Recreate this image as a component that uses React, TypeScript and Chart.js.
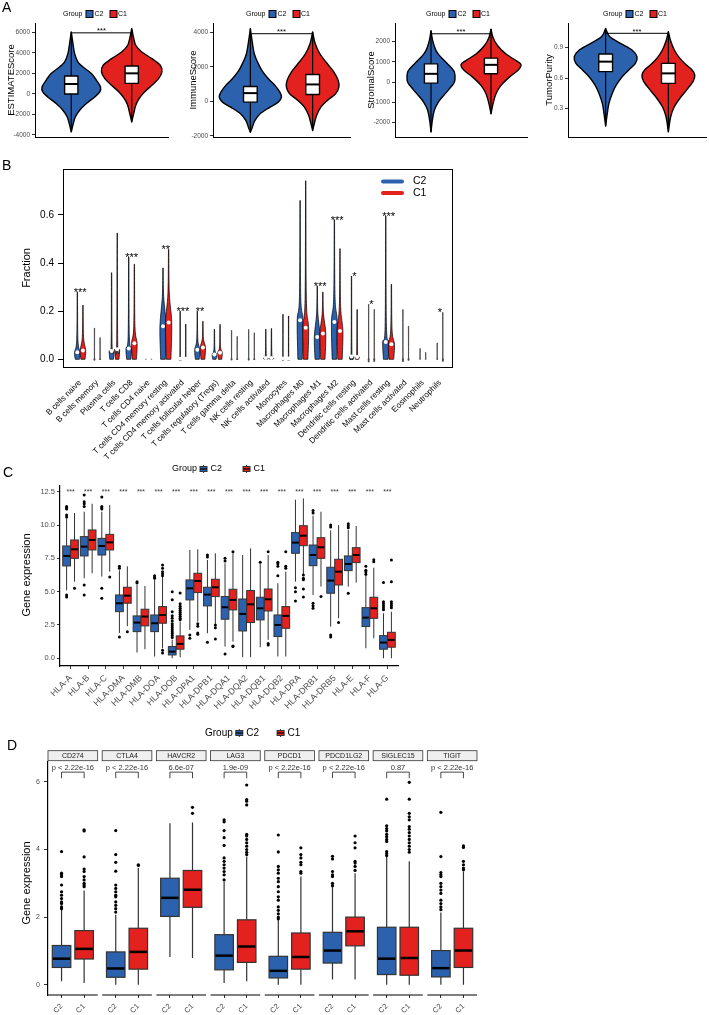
import React, { useEffect, useRef } from "react";
import { Chart, registerables } from "chart.js";

Chart.register(...registerables);

const FONT = "'Liberation Sans', Arial, Helvetica, sans-serif";
const BLUE = "#2C62AD";
const RED = "#E3211E";
const GREY30 = "#4D4D4D";
const GREY20 = "#333333";

/* ======================= Panel A data ======================= */
const groups = ["C2", "C1"];
const aScoreNames = ["ESTIMATEScore", "ImmuneScore", "StromalScore", "TumorPurity"];
const aTicks = [
  [-4000, -2000, 0, 2000, 4000, 6000],
  [-2000, 0, 2000, 4000],
  [-2000, -1000, 0, 1000, 2000],
  [0.3, 0.6, 0.9],
];
const aAxisMin = [-4195, -2058, -2708, 0.017];
const aAxisMax = [6909, 4540, 2922, 1.144];
const aBracketValue = [5950, 3920, 2390, 1.042];
const aSignificance = ["***", "***", "***", "***"];

// violin outlines: value levels (low -> high) and relative density (half width)
const estimateC2Levels = [-3700, -2890, -2240, -1590, -940, -290, 195, 680, 1330, 1980, 2630, 3100, 3930, 4900, 6040];
const estimateC2Density = [0, 6, 12, 25, 45, 70, 85, 87, 75, 60, 35, 20, 10, 5, 0];
const estimateC1Levels = [-2730, -1900, -1100, -450, 195, 840, 1490, 2140, 2790, 3440, 4090, 4740, 5550, 6360];
const estimateC1Density = [0, 6, 12, 22, 38, 60, 80, 90, 85, 60, 30, 12, 5, 0];
const immuneC2Levels = [-1780, -1490, -1100, -710, -330, -40, 250, 540, 930, 1310, 1800, 2280, 2760, 3540, 4210];
const immuneC2Density = [0, 6, 14, 30, 60, 85, 95, 90, 75, 55, 35, 22, 12, 5, 0];
const immuneC1Levels = [-1680, -1290, -810, -330, 60, 440, 830, 1220, 1700, 2180, 2760, 3340, 4020];
const immuneC1Density = [0, 5, 12, 25, 45, 70, 80, 78, 65, 45, 22, 8, 0];
const stromalC2Levels = [-2460, -1890, -1390, -980, -660, -330, 0, 330, 570, 900, 1230, 1560, 2050, 2540];
const stromalC2Density = [0, 4, 10, 22, 38, 55, 70, 72, 68, 50, 30, 15, 5, 0];
const stromalC1Levels = [-1560, -1070, -570, -160, 250, 570, 870, 1070, 1390, 1800, 2210, 2620];
const stromalC1Density = [0, 6, 15, 30, 55, 80, 90, 75, 45, 20, 6, 0];
const purityC2Levels = [0.125, 0.25, 0.349, 0.448, 0.53, 0.613, 0.679, 0.745, 0.81, 0.877, 0.943, 1.01, 1.09];
const purityC2Density = [0, 5, 10, 20, 32, 50, 70, 90, 95, 80, 45, 12, 0];
const purityC1Levels = [0.068, 0.217, 0.316, 0.4, 0.481, 0.567, 0.63, 0.679, 0.728, 0.794, 0.877, 0.976, 1.058];
const purityC1Density = [0, 7, 18, 35, 55, 75, 80, 72, 55, 35, 18, 6, 0];

// boxes: [q1, median, q3] for C2 then C1
const estimateBoxes = [[-7, 967, 1746], [1032, 2006, 2720]];
const immuneBoxes = [[-39, 482, 868], [405, 984, 1562]];
const stromalBoxes = [[-49, 412, 905], [412, 856, 1185]];
const purityBoxes = [[0.663, 0.762, 0.837], [0.547, 0.646, 0.745]];

/* ======================= Panel B data ======================= */
const cellTypes = [
  "B cells naive", "B cells memory", "Plasma cells", "T cells CD8", "T cells CD4 naive",
  "T cells CD4 memory resting", "T cells CD4 memory activated", "T cells follicular helper",
  "T cells regulatory (Tregs)", "T cells gamma delta", "NK cells resting", "NK cells activated",
  "Monocytes", "Macrophages M0", "Macrophages M1", "Macrophages M2", "Dendritic cells resting",
  "Dendritic cells activated", "Mast cells resting", "Mast cells activated", "Eosinophils", "Neutrophils",
];
const bTopC2 = [0.28, 0.13, 0.36, 0.425, 0.004, 0.38, 0.2, 0.2, 0.125, 0.12, 0.124, 0.125, 0.187, 0.66, 0.305, 0.58, 0.346, 0.229, 0.596, 0.207, 0.045, 0.068];
const bTopC1 = [0.225, 0.09, 0.525, 0.395, 0.004, 0.457, 0.146, 0.158, 0.145, 0.095, 0.11, 0.128, 0.18, 0.742, 0.28, 0.46, 0.207, 0.207, 0.312, 0.1375, 0.029, 0.195];
const bMedianC2 = [0.029, 0, 0.035, 0.045, 0, 0.137, 0.002, 0.04, 0.02, 0, 0, 0.005, 0.003, 0.162, 0.093, 0.155, 0.012, 0, 0.072, 0, 0, 0];
const bMedianC1 = [0.037, 0, 0.042, 0.067, 0, 0.153, 0.002, 0.049, 0.027, 0, 0, 0.005, 0.003, 0.131, 0.107, 0.118, 0.01, 0, 0.063, 0, 0, 0];
const bBodyC2 = [0.08, 0, 0.053, 0.094, 0, 0.26, 0.01, 0.08, 0.04, 0, 0, 0.015, 0.01, 0.26, 0.19, 0.26, 0.025, 0, 0.135, 0, 0, 0];
const bBodyC1 = [0.094, 0, 0.06, 0.136, 0, 0.275, 0.01, 0.087, 0.053, 0, 0, 0.015, 0.01, 0.25, 0.19, 0.22, 0.02, 0, 0.12, 0, 0, 0];
const bWidthC2 = [0.16, 0.03, 0.14, 0.16, 0.03, 0.18, 0.06, 0.15, 0.13, 0.03, 0.03, 0.13, 0.06, 0.17, 0.17, 0.17, 0.12, 0.03, 0.18, 0.03, 0.03, 0.03];
const bWidthC1 = [0.16, 0.03, 0.14, 0.16, 0.03, 0.18, 0.06, 0.15, 0.13, 0.03, 0.03, 0.13, 0.06, 0.17, 0.17, 0.17, 0.12, 0.03, 0.18, 0.03, 0.03, 0.03];
const bSignif = ["***", "", "", "***", "", "**", "***", "**", "", "", "", "", "", "", "***", "***", "*", "*", "***", "", "", "*"];
const bTicks = [0, 0.2, 0.4, 0.6];

/* ======================= Panel C data ======================= */
const hlaGenes = ["HLA-A", "HLA-B", "HLA-C", "HLA-DMA", "HLA-DMB", "HLA-DOA", "HLA-DOB", "HLA-DPA1", "HLA-DPB1", "HLA-DQA1", "HLA-DQA2", "HLA-DQB1", "HLA-DQB2", "HLA-DRA", "HLA-DRB1", "HLA-DRB5", "HLA-E", "HLA-F", "HLA-G"];
// [lower whisker, q1, median, q3, upper whisker]
const hlaC2Stats = [
  [5.1, 6.93, 7.68, 8.43, 10.5], [6.0, 7.68, 8.38, 9.13, 11.0], [6.13, 7.75, 8.43, 9.0, 11.0],
  [1.9, 3.5, 4.13, 4.75, 6.6], [0.43, 2.0, 2.68, 3.18, 5.5], [0.13, 2.0, 2.63, 3.25, 5.88],
  [0.0, 0.25, 0.5, 0.88, 1.4], [2.13, 4.38, 5.25, 5.88, 8.13], [1.88, 3.93, 4.78, 5.33, 7.38],
  [0.88, 2.93, 3.83, 4.63, 7.13], [0.08, 2.05, 3.33, 4.45, 7.75], [0.83, 2.88, 3.75, 4.58, 7.1],
  [0.13, 1.63, 2.5, 3.25, 5.63], [5.75, 7.88, 8.68, 9.43, 11.9], [4.75, 6.95, 7.75, 8.5, 10.7],
  [2.38, 4.88, 5.83, 6.83, 9.6], [5.38, 6.58, 7.08, 7.68, 9.63], [0.75, 2.38, 3.05, 3.8, 6.43],
  [0.0, 0.68, 1.18, 1.7, 3.38],
];
const hlaC1Stats = [
  [5.75, 7.5, 8.18, 8.88, 10.9], [6.38, 8.13, 8.88, 9.63, 11.6], [6.5, 8.13, 8.7, 9.3, 11.5],
  [2.4, 4.13, 4.7, 5.33, 6.9], [0.68, 2.43, 3.13, 3.68, 5.43], [0.75, 2.63, 3.25, 3.88, 6.1],
  [0.08, 0.68, 1.08, 1.68, 2.75], [2.75, 4.93, 5.8, 6.38, 8.18], [2.58, 4.63, 5.33, 5.93, 7.88],
  [1.25, 3.63, 4.38, 5.18, 7.88], [0.08, 2.68, 4.05, 5.08, 8.25], [1.38, 3.55, 4.43, 5.2, 7.75],
  [0.13, 2.25, 3.18, 3.88, 6.5], [6.25, 8.45, 9.2, 9.95, 12.0], [5.38, 7.5, 8.33, 9.05, 11.0],
  [3.0, 5.5, 6.5, 7.43, 10.0], [5.68, 7.18, 7.75, 8.3, 9.93], [1.5, 3.0, 3.75, 4.58, 6.8],
  [0.0, 0.83, 1.38, 1.95, 3.5],
];
const hlaC2Outliers = [
  [11.4, 11.3, 11.2, 10.75, 10.6, 4.75, 4.6], [12.25, 11.75, 11.6, 11.4, 5.5, 4.75], [12.1, 11.4, 11.3, 11.2, 5.25, 4.5],
  [6.9, 6.75, 1.6], [5.75, 5.65], [6.2, 6.1, 6.0],
  [5.0, 4.4, 3.5, 3.2, 3.0, 2.8, 2.6, 2.45, 2.3, 2.15, 2.0, 1.85, 1.7, 1.55], [1.75, 1.5], [7.75, 7.6, 1.2],
  [7.5, 7.3, 0.33], [], [7.2],
  [7.2, 7.1, 6.9, 6.2], [5.3, 5.0, 4.3], [11.1, 10.9, 4.13, 3.95, 3.75],
  [10.0, 9.85, 1.75, 1.6], [10.1, 9.95, 9.8, 4.88], [6.9, 6.6, 6.5, 6.3],
  [5.68, 4.25, 4.1, 3.95, 3.8, 3.65],
];
const hlaC1Outliers = [
  [5.25], [], [6.1],
  [2.0], [], [7.0, 6.75, 6.5, 6.35, 6.2, 0.6, 0.4],
  [4.9, 4.1, 3.9, 3.75, 3.6, 3.45, 3.3, 3.15, 3.0, 2.9], [2.6, 2.4, 1.9, 1.8], [2.5, 2.3, 1.45],
  [8.0, 0.93, 0.88], [], [8.0, 1.1, 1.0],
  [8.0, 6.9, 6.75], [6.25, 6.0, 5.9, 5.2, 4.6], [4.63],
  [2.68], [], [7.4, 7.25],
  [7.38, 5.75, 4.25, 4.1, 3.95, 3.8],
];
const hlaSignif = ["***", "***", "***", "***", "***", "***", "***", "***", "***", "***", "***", "***", "***", "***", "***", "***", "***", "***", "***"];
const cTicks = [0, 2.5, 5, 7.5, 10, 12.5];

/* ======================= Panel D data ======================= */
const checkpoints = ["CD274", "CTLA4", "HAVCR2", "LAG3", "PDCD1", "PDCD1LG2", "SIGLEC15", "TIGIT"];
const checkpointP = ["p < 2.22e-16", "p < 2.22e-16", "6.6e-07", "1.9e-09", "p < 2.22e-16", "p < 2.22e-16", "0.87", "p < 2.22e-16"];
const icpC2Stats = [
  [0.1, 0.51, 0.77, 1.16, 2.22], [0.0, 0.22, 0.48, 0.97, 2.07], [0.82, 2.02, 2.57, 3.15, 4.78], [0.05, 0.44, 0.86, 1.48, 3.05],
  [0.0, 0.2, 0.41, 0.84, 1.92], [0.15, 0.64, 1.01, 1.55, 2.91], [0.0, 0.3, 0.77, 1.7, 3.79], [0.0, 0.23, 0.49, 1.01, 2.14],
];
const icpC1Stats = [
  [0.05, 0.76, 1.06, 1.6, 2.79], [0.0, 0.46, 0.97, 1.67, 3.45], [0.79, 2.29, 2.81, 3.38, 4.8], [0.1, 0.66, 1.13, 1.92, 3.79],
  [0.0, 0.46, 0.82, 1.53, 3.2], [0.15, 1.15, 1.58, 2.0, 3.3], [0.0, 0.28, 0.79, 1.7, 3.65], [0.0, 0.51, 1.01, 1.67, 3.35],
];
const icpC2Outliers = [
  [3.94, 3.3, 3.25, 3.2, 2.95, 2.75, 2.65, 2.55, 2.45, 2.4, 2.3, 2.25],
  [4.56, 3.85, 3.62, 3.36, 2.95, 2.85, 2.75, 2.65, 2.6, 2.45, 2.35, 2.25, 2.15],
  [],
  [4.88, 4.82, 4.56, 4.35, 4.12, 3.75, 3.65, 3.55, 3.45, 3.35, 3.25, 3.1],
  [4.43, 3.93, 3.5, 3.4, 3.3, 3.15, 3.05, 2.9, 2.75, 2.6, 2.5, 2.3, 2.2, 2.1, 2.0, 1.95],
  [3.8, 3.72, 3.35, 3.25, 3.2, 3.0, 2.93],
  [5.49, 4.7, 4.62, 4.55, 4.45, 4.38, 4.3, 4.24, 3.94, 3.88, 3.82],
  [5.1, 3.79, 3.32, 3.25, 3.2, 3.0, 2.9, 2.8, 2.7, 2.5, 2.4, 2.3, 2.22],
];
const icpC1Outliers = [
  [4.58, 4.55, 3.78, 3.42, 3.35, 3.2, 3.1, 3.0, 2.95, 2.9],
  [3.55, 3.53],
  [5.25, 5.07],
  [5.91, 5.48, 5.43, 5.32, 4.45, 4.4, 4.3, 4.2, 4.1, 4.0, 3.92, 3.85],
  [4.05, 3.85, 3.75, 3.62, 3.55, 3.35, 3.3],
  [4.4, 4.2, 4.05, 3.65, 3.6, 3.5, 3.38],
  [5.99, 5.49, 5.07, 4.97, 4.88, 4.68, 4.6, 4.5, 4.4, 4.3, 4.2, 4.1, 4.0, 3.92],
  [4.11, 4.06, 3.65, 3.55, 3.45, 3.4],
];
const dTicks = [0, 2, 4, 6];
const dBracketTop = 6.29;
const dBracketFoot = 6.11;
const dLabelLevel = 6.42;

/* ======================= Layout ======================= */
type Lay = { cx: number; cy: number; cw: number; ch: number; l: number; t: number; r: number; b: number };
const LAYOUT_A: Lay[] = [
  { cx: 0, cy: 0, cw: 177, ch: 145, l: 35, t: 23, r: 168, b: 137 },
  { cx: 177, cy: 0, cw: 177, ch: 145, l: 213, t: 23, r: 350, b: 137 },
  { cx: 354, cy: 0, cw: 177, ch: 145, l: 395, t: 23, r: 527, b: 137 },
  { cx: 531, cy: 0, cw: 178, ch: 145, l: 568, t: 23, r: 706, b: 137 },
];
const A_TITLE_X = [11.5, 193.5, 371.5, 549.5];
const A_LEGEND_X = [63, 246, 426, 603];
const LAYOUT_B: Lay = { cx: 0, cy: 150, cw: 470, ch: 320, l: 63, t: 169, r: 452, b: 367 };
const LAYOUT_C: Lay = { cx: 0, cy: 460, cw: 420, ch: 262, l: 60, t: 486, r: 398, b: 666 };
const LAYOUT_D: Lay = { cx: 0, cy: 722, cw: 500, ch: 293, l: 48, t: 762, r: 477, b: 995 };
const FACET_STEP = 2.4;
const FACET_WIDTH = 2.2;

/* ======================= helpers ======================= */
function px(chart: any, v: number) { return chart.scales.x.getPixelForValue(v); }
function py(chart: any, v: number) { return chart.scales.y.getPixelForValue(v); }

function drawText(ctx: CanvasRenderingContext2D, s: string, x: number, y: number, size: number, color: string,
  align: CanvasTextAlign = "left", baseline: CanvasTextBaseline = "middle", rot = 0) {
  ctx.save();
  ctx.font = `${size}px ${FONT}`;
  ctx.fillStyle = color;
  ctx.textAlign = align;
  ctx.textBaseline = baseline;
  ctx.translate(x, y);
  if (rot) ctx.rotate(rot);
  ctx.fillText(s, 0, 0);
  ctx.restore();
}

function smoothLine(ctx: CanvasRenderingContext2D, pts: number[][], first: boolean) {
  if (first) ctx.moveTo(pts[0][0], pts[0][1]); else ctx.lineTo(pts[0][0], pts[0][1]);
  for (let i = 0; i < pts.length - 1; i++) {
    const p0 = pts[i > 0 ? i - 1 : i];
    const p1 = pts[i];
    const p2 = pts[i + 1];
    const p3 = pts[i + 2 < pts.length ? i + 2 : i + 1];
    ctx.bezierCurveTo(
      p1[0] + (p2[0] - p0[0]) / 6, p1[1] + (p2[1] - p0[1]) / 6,
      p2[0] - (p3[0] - p1[0]) / 6, p2[1] - (p3[1] - p1[1]) / 6,
      p2[0], p2[1]);
  }
}

function violinPath(chart: any, xc: number, levels: number[], halfWidths: number[]) {
  const ctx = chart.ctx as CanvasRenderingContext2D;
  const right = levels.map((v, k) => [px(chart, xc + halfWidths[k]), py(chart, v)]);
  const left = levels.map((v, k) => [px(chart, xc - halfWidths[k]), py(chart, v)]).reverse();
  ctx.beginPath();
  smoothLine(ctx, right, true);
  smoothLine(ctx, left, false);
  ctx.closePath();
}

function drawBox(chart: any, xc: number, half: number, st: number[], fill: string, border: number, medW: number) {
  const ctx = chart.ctx as CanvasRenderingContext2D;
  const [lo, q1, med, q3, hi] = st;
  const x = px(chart, xc);
  const x0 = px(chart, xc - half);
  const x1 = px(chart, xc + half);
  ctx.save();
  ctx.strokeStyle = GREY20;
  ctx.lineWidth = border;
  ctx.beginPath();
  ctx.moveTo(x, py(chart, hi)); ctx.lineTo(x, py(chart, q3));
  ctx.moveTo(x, py(chart, q1)); ctx.lineTo(x, py(chart, lo));
  ctx.stroke();
  const yt = py(chart, q3);
  const yb = py(chart, q1);
  ctx.fillStyle = fill;
  ctx.fillRect(x0, yt, x1 - x0, yb - yt);
  ctx.strokeRect(x0, yt, x1 - x0, yb - yt);
  ctx.strokeStyle = "#000";
  ctx.lineWidth = medW;
  ctx.beginPath();
  ctx.moveTo(x0 + border / 2, py(chart, med)); ctx.lineTo(x1 - border / 2, py(chart, med));
  ctx.stroke();
  ctx.restore();
}

function boxKey(ctx: CanvasRenderingContext2D, x: number, y: number, fill: string) {
  ctx.save();
  ctx.strokeStyle = GREY20;
  ctx.lineWidth = 1;
  ctx.beginPath();
  ctx.moveTo(x + 3.5, y - 4); ctx.lineTo(x + 3.5, y + 4);
  ctx.stroke();
  ctx.fillStyle = fill;
  ctx.fillRect(x, y - 2.5, 7, 5);
  ctx.strokeRect(x, y - 2.5, 7, 5);
  ctx.strokeStyle = "#000";
  ctx.lineWidth = 1.2;
  ctx.beginPath();
  ctx.moveTo(x, y); ctx.lineTo(x + 7, y);
  ctx.stroke();
  ctx.restore();
}

function groupLegend(ctx: CanvasRenderingContext2D, x: number, y: number, size: number, gapAfterC2: number) {
  ctx.save();
  ctx.font = `${size}px ${FONT}`;
  const wGroup = ctx.measureText("Group").width;
  const wC2 = ctx.measureText("C2").width;
  ctx.restore();
  drawText(ctx, "Group", x, y, size, "#000", "left", "middle");
  let cx = x + wGroup + 3;
  boxKey(ctx, cx, y, BLUE);
  cx += 10.5;
  drawText(ctx, "C2", cx, y, size, "#000", "left", "middle");
  cx += wC2 + gapAfterC2;
  boxKey(ctx, cx, y, RED);
  cx += 10.5;
  drawText(ctx, "C1", cx, y, size, "#000", "left", "middle");
}

function baseOptions(L: Lay, xCfg: any, yCfg: any) {
  return {
    responsive: false,
    animation: false,
    events: [],
    layout: { autoPadding: false, padding: { left: 0, top: L.t - L.cy, right: L.cx + L.cw - L.r, bottom: 0 } },
    plugins: { legend: { display: false }, tooltip: { enabled: false }, title: { display: false } },
    scales: {
      x: {
        ...xCfg,
        afterFit(s: any) { s.height = L.cy + L.ch - L.b; s.paddingLeft = 0; s.paddingRight = 0; s.paddingTop = 0; s.paddingBottom = 0; },
      },
      y: {
        ...yCfg,
        afterFit(s: any) { s.width = L.l - L.cx; s.paddingLeft = 0; s.paddingRight = 0; s.paddingTop = 0; s.paddingBottom = 0; },
      },
    },
  };
}

/* ======================= Panel A ======================= */
const aViolins = [
  [[estimateC2Levels, estimateC2Density], [estimateC1Levels, estimateC1Density]],
  [[immuneC2Levels, immuneC2Density], [immuneC1Levels, immuneC1Density]],
  [[stromalC2Levels, stromalC2Density], [stromalC1Levels, stromalC1Density]],
  [[purityC2Levels, purityC2Density], [purityC1Levels, purityC1Density]],
];
const aBoxes = [estimateBoxes, immuneBoxes, stromalBoxes, purityBoxes];

function makePanelA(canvas: HTMLCanvasElement, i: number) {
  const L = LAYOUT_A[i];
  const vio = aViolins[i];
  const maxD = Math.max(...vio[0][1], ...vio[1][1]);
  const plugin = {
    id: "violinA" + i,
    beforeDatasetsDraw(chart: any) {
      const ctx = chart.ctx as CanvasRenderingContext2D;
      for (let g = 0; g < 2; g++) {
        const xc = g + 1;
        const [levels, dens] = vio[g];
        const half = dens.map((d) => (d / maxD) * 0.5);
        ctx.save();
        violinPath(chart, xc, levels, half);
        ctx.fillStyle = g === 0 ? BLUE : RED;
        ctx.fill();
        ctx.lineWidth = 1.4;
        ctx.strokeStyle = "#000";
        ctx.lineJoin = "round";
        ctx.stroke();
        const x = px(chart, xc);
        ctx.beginPath();
        ctx.moveTo(x, py(chart, levels[0]));
        ctx.lineTo(x, py(chart, levels[levels.length - 1]));
        ctx.lineWidth = 1.2;
        ctx.stroke();
        const [q1, med, q3] = aBoxes[i][g];
        const x0 = px(chart, xc - 0.11);
        const x1 = px(chart, xc + 0.11);
        const yt = py(chart, q3);
        const yb = py(chart, q1);
        ctx.fillStyle = "#fff";
        ctx.fillRect(x0, yt, x1 - x0, yb - yt);
        ctx.lineWidth = 1.4;
        ctx.strokeRect(x0, yt, x1 - x0, yb - yt);
        ctx.beginPath();
        ctx.moveTo(x0, py(chart, med));
        ctx.lineTo(x1, py(chart, med));
        ctx.lineWidth = 2;
        ctx.stroke();
        ctx.restore();
      }
      const yb = py(chart, aBracketValue[i]);
      ctx.save();
      ctx.strokeStyle = "#000";
      ctx.lineWidth = 1;
      ctx.beginPath();
      ctx.moveTo(px(chart, 1), yb);
      ctx.lineTo(px(chart, 2), yb);
      ctx.stroke();
      ctx.restore();
      drawText(ctx, aSignificance[i], px(chart, 1.5), yb + 0.5, 7.5, "#000", "center", "alphabetic");
    },
    afterDraw(chart: any) {
      const ctx = chart.ctx as CanvasRenderingContext2D;
      drawText(ctx, aScoreNames[i], A_TITLE_X[i] - L.cx, (L.t + L.b) / 2 - L.cy, 9.5, "#000", "center", "middle", -Math.PI / 2);
      const lx = A_LEGEND_X[i] - L.cx;
      const ly = 14 - L.cy;
      drawText(ctx, "Group", lx, ly, 7, "#000", "left", "middle");
      const keys = [[23, 31.5], [47, 55]];
      keys.forEach(([kx, tx], g) => {
        ctx.save();
        ctx.fillStyle = g === 0 ? BLUE : RED;
        ctx.strokeStyle = "#000";
        ctx.lineWidth = 1;
        ctx.fillRect(lx + kx, ly - 3.5, 7, 7);
        ctx.strokeRect(lx + kx, ly - 3.5, 7, 7);
        ctx.restore();
        drawText(ctx, groups[g], lx + tx, ly, 7, "#000", "left", "middle");
      });
    },
  };
  const opts = baseOptions(
    L,
    { type: "linear", min: 0.4, max: 2.6, grid: { display: false }, border: { display: true, color: "#000", width: 1 }, ticks: { display: false } },
    {
      type: "linear", position: "left", min: aAxisMin[i], max: aAxisMax[i],
      afterBuildTicks: (s: any) => { s.ticks = aTicks[i].map((v) => ({ value: v })); },
      grid: { display: true, drawOnChartArea: false, drawTicks: true, tickLength: 3, color: GREY20, lineWidth: 1 },
      border: { display: true, color: "#000", width: 1 },
      ticks: { font: { family: FONT, size: 6.5 }, color: GREY30, padding: 2, callback: (v: any) => String(v) },
    }
  );
  return new Chart(canvas, { type: "scatter", data: { datasets: [] }, options: opts as any, plugins: [plugin] });
}

/* ======================= Panel B ======================= */
function makePanelB(canvas: HTMLCanvasElement) {
  const L = LAYOUT_B;
  const tops = [bTopC2, bTopC1];
  const meds = [bMedianC2, bMedianC1];
  const bodies = [bBodyC2, bBodyC1];
  const widths = [bWidthC2, bWidthC1];
  const plugin = {
    id: "violinB",
    beforeDatasetsDraw(chart: any) {
      const ctx = chart.ctx as CanvasRenderingContext2D;
      for (let k = 0; k < cellTypes.length; k++) {
        for (let g = 0; g < 2; g++) {
          const xc = k + 1 + (g === 0 ? -0.164 : 0.164);
          const top = tops[g][k];
          const w = widths[g][k];
          if (top < 0.01) {
            ctx.save();
            ctx.fillStyle = "#888";
            ctx.beginPath();
            ctx.arc(px(chart, xc), py(chart, 0), 0.8, 0, Math.PI * 2);
            ctx.fill();
            ctx.restore();
            continue;
          }
          const med = Math.max(meds[g][k], 0.002);
          const body = Math.max(bodies[g][k], med + 0.004);
          const levels = [0, med, body, top];
          const half = [0.75 * w, w, 0.22 * w, 0.01];
          ctx.save();
          violinPath(chart, xc, levels, half);
          ctx.fillStyle = g === 0 ? BLUE : RED;
          ctx.fill();
          ctx.strokeStyle = w < 0.05 ? "#444" : "#000";
          ctx.lineWidth = w < 0.05 ? 0.8 : 0.7;
          ctx.stroke();
          if (w >= 0.05) {
            ctx.fillStyle = "#fff";
            ctx.beginPath();
            ctx.arc(px(chart, xc), py(chart, meds[g][k]), 2, 0, Math.PI * 2);
            ctx.fill();
          }
          ctx.restore();
        }
        if (bSignif[k]) {
          const top = Math.max(bTopC2[k], bTopC1[k]);
          drawText(ctx, bSignif[k], px(chart, k + 1), py(chart, top) + 4, 11, "#000", "center", "alphabetic");
        }
      }
    },
    afterDraw(chart: any) {
      const ctx = chart.ctx as CanvasRenderingContext2D;
      const a = chart.chartArea;
      ctx.save();
      ctx.strokeStyle = "#000";
      ctx.lineWidth = 1;
      ctx.strokeRect(Math.round(a.left) + 0.5, Math.round(a.top) + 0.5, Math.round(a.right - a.left), Math.round(a.bottom - a.top));
      ctx.restore();
      drawText(ctx, "Fraction", 27 - L.cx, (L.t + L.b) / 2 - L.cy, 11, "#000", "center", "middle", -Math.PI / 2);
      [[12.5, BLUE], [24, RED]].forEach(([dy, col], g) => {
        ctx.save();
        ctx.strokeStyle = col as string;
        ctx.lineWidth = 4;
        ctx.lineCap = "round";
        ctx.beginPath();
        ctx.moveTo(a.right - 69, a.top + (dy as number));
        ctx.lineTo(a.right - 50, a.top + (dy as number));
        ctx.stroke();
        ctx.restore();
        drawText(ctx, groups[g], a.right - 39, a.top + (dy as number), 10.5, "#000", "left", "middle");
      });
    },
  };
  const opts = baseOptions(
    L,
    {
      type: "linear", min: 0, max: 22.7,
      afterBuildTicks: (s: any) => { s.ticks = cellTypes.map((_, k) => ({ value: k + 1 })); },
      grid: { display: false },
      border: { display: true, color: "#000", width: 1 },
      ticks: { autoSkip: false, maxRotation: 45, minRotation: 45, padding: 3, font: { family: FONT, size: 8.2 }, color: "#000", callback: (v: any) => cellTypes[Math.round(v) - 1] },
    },
    {
      type: "linear", position: "left", min: -0.0319, max: 0.791,
      afterBuildTicks: (s: any) => { s.ticks = bTicks.map((v) => ({ value: v })); },
      grid: { display: true, drawOnChartArea: false, drawTicks: true, tickLength: 5, color: "#000", lineWidth: 1 },
      border: { display: true, color: "#000", width: 1 },
      ticks: { font: { family: FONT, size: 10 }, color: "#000", padding: 4, callback: (v: any) => Number(v).toFixed(1) },
    }
  );
  return new Chart(canvas, { type: "scatter", data: { datasets: [] }, options: opts as any, plugins: [plugin] });
}

/* ======================= Panel C ======================= */
const cOffset = 0.225;
const cHalf = 0.22;
function makePanelC(canvas: HTMLCanvasElement) {
  const L = LAYOUT_C;
  const stats = [hlaC2Stats, hlaC1Stats];
  const outl = [hlaC2Outliers, hlaC1Outliers];
  const datasets = [0, 1].map((g) => ({
    label: groups[g],
    data: outl[g].flatMap((vals, k) => vals.map((v) => ({ x: k + 1 + (g === 0 ? -cOffset : cOffset), y: v }))),
    pointRadius: 1.5,
    pointBackgroundColor: "#000",
    pointBorderWidth: 0,
    showLine: false,
  }));
  const plugin = {
    id: "boxC",
    beforeDatasetsDraw(chart: any) {
      const ctx = chart.ctx as CanvasRenderingContext2D;
      for (let k = 0; k < hlaGenes.length; k++) {
        for (let g = 0; g < 2; g++) {
          const xc = k + 1 + (g === 0 ? -cOffset : cOffset);
          drawBox(chart, xc, cHalf, stats[g][k], g === 0 ? BLUE : RED, 1, 2);
        }
        drawText(ctx, hlaSignif[k], px(chart, k + 1), py(chart, 12.5), 7, GREY20, "center", "middle");
      }
    },
    afterDraw(chart: any) {
      const ctx = chart.ctx as CanvasRenderingContext2D;
      drawText(ctx, "Gene expression", 27 - L.cx, 575 - L.cy, 11, "#000", "center", "middle", -Math.PI / 2);
      groupLegend(ctx, 172 - L.cx, 469 - L.cy, 9, 21);
    },
  };
  const opts = baseOptions(
    L,
    {
      type: "linear", min: 0.4, max: 19.6,
      afterBuildTicks: (s: any) => { s.ticks = hlaGenes.map((_, k) => ({ value: k + 1 })); },
      grid: { display: true, drawOnChartArea: false, drawTicks: true, tickLength: 3, color: GREY20, lineWidth: 1 },
      border: { display: true, color: "#000", width: 1.2 },
      ticks: { autoSkip: false, maxRotation: 45, minRotation: 45, padding: 4, font: { family: FONT, size: 8.8 }, color: GREY30, callback: (v: any) => hlaGenes[Math.round(v) - 1] },
    },
    {
      type: "linear", position: "left", min: -0.58, max: 12.93,
      afterBuildTicks: (s: any) => { s.ticks = cTicks.map((v) => ({ value: v })); },
      grid: { display: true, drawOnChartArea: false, drawTicks: true, tickLength: 3, color: GREY20, lineWidth: 1 },
      border: { display: true, color: "#000", width: 1.2 },
      ticks: { font: { family: FONT, size: 7.5 }, color: GREY30, padding: 2, callback: (v: any) => Number(v).toFixed(1) },
    }
  );
  return new Chart(canvas, { type: "scatter", data: { datasets }, options: opts as any, plugins: [plugin] });
}

/* ======================= Panel D ======================= */
const dHalf = 0.41;
function dPos(f: number, g: number) { return f * FACET_STEP + (g === 0 ? 0.6 : 1.6); }
function makePanelD(canvas: HTMLCanvasElement) {
  const L = LAYOUT_D;
  const stats = [icpC2Stats, icpC1Stats];
  const outl = [icpC2Outliers, icpC1Outliers];
  const datasets = [0, 1].map((g) => ({
    label: groups[g],
    data: outl[g].flatMap((vals, f) => vals.map((v) => ({ x: dPos(f, g), y: v }))),
    pointRadius: 1.6,
    pointBackgroundColor: "#000",
    pointBorderWidth: 0,
    showLine: false,
  }));
  const tickPos = checkpoints.flatMap((_, f) => [dPos(f, 0), dPos(f, 1)]);
  const plugin = {
    id: "boxD",
    beforeDatasetsDraw(chart: any) {
      const ctx = chart.ctx as CanvasRenderingContext2D;
      const a = chart.chartArea;
      for (let f = 0; f < checkpoints.length; f++) {
        const x0 = px(chart, f * FACET_STEP);
        const x1 = px(chart, f * FACET_STEP + FACET_WIDTH);
        ctx.save();
        ctx.fillStyle = "#EFEFEF";
        ctx.strokeStyle = GREY20;
        ctx.lineWidth = 0.8;
        ctx.fillRect(x0, a.top - 11.3, x1 - x0, 10);
        ctx.strokeRect(x0, a.top - 11.3, x1 - x0, 10);
        ctx.strokeStyle = "#000";
        ctx.lineWidth = 1.2;
        ctx.beginPath();
        ctx.moveTo(x0, a.bottom);
        ctx.lineTo(x1, a.bottom);
        ctx.stroke();
        ctx.restore();
        drawText(ctx, checkpoints[f], (x0 + x1) / 2, a.top - 6.3, 7, "#1A1A1A", "center", "middle");
        const xa = px(chart, dPos(f, 0));
        const xb = px(chart, dPos(f, 1));
        drawText(ctx, checkpointP[f], (xa + xb) / 2, py(chart, dLabelLevel), 7.5, GREY20, "center", "middle");
        ctx.save();
        ctx.strokeStyle = GREY20;
        ctx.lineWidth = 0.9;
        ctx.beginPath();
        ctx.moveTo(xa, py(chart, dBracketFoot));
        ctx.lineTo(xa, py(chart, dBracketTop));
        ctx.lineTo(xb, py(chart, dBracketTop));
        ctx.lineTo(xb, py(chart, dBracketFoot));
        ctx.stroke();
        ctx.restore();
        for (let g = 0; g < 2; g++) {
          drawBox(chart, dPos(f, g), dHalf, stats[g][f], g === 0 ? BLUE : RED, 1.2, 2.5);
        }
      }
    },
    afterDraw(chart: any) {
      const ctx = chart.ctx as CanvasRenderingContext2D;
      drawText(ctx, "Gene expression", 27 - L.cx, 883 - L.cy, 11, "#000", "center", "middle", -Math.PI / 2);
      groupLegend(ctx, 205 - L.cx, 733 - L.cy, 10, 18);
    },
  };
  const opts = baseOptions(
    L,
    {
      type: "linear", min: 0, max: 7 * FACET_STEP + FACET_WIDTH,
      afterBuildTicks: (s: any) => { s.ticks = tickPos.map((v) => ({ value: v })); },
      grid: { display: true, drawOnChartArea: false, drawTicks: true, tickLength: 3, color: GREY20, lineWidth: 1 },
      border: { display: false },
      ticks: {
        autoSkip: false, maxRotation: 45, minRotation: 45, padding: 4, font: { family: FONT, size: 7.5 }, color: GREY30,
        callback: (_v: any, idx: number) => groups[idx % 2],
      },
    },
    {
      type: "linear", position: "left", min: -0.305, max: 6.59,
      afterBuildTicks: (s: any) => { s.ticks = dTicks.map((v) => ({ value: v })); },
      grid: { display: true, drawOnChartArea: false, drawTicks: true, tickLength: 4, color: GREY20, lineWidth: 1 },
      border: { display: true, color: "#000", width: 1.2 },
      ticks: { font: { family: FONT, size: 7 }, color: GREY30, padding: 4, callback: (v: any) => String(v) },
    }
  );
  return new Chart(canvas, { type: "scatter", data: { datasets }, options: opts as any, plugins: [plugin] });
}

/* ======================= App ======================= */
const LETTERS = [
  { t: "A", x: 2, y: 0 },
  { t: "B", x: 2, y: 158 },
  { t: "C", x: 3, y: 465 },
  { t: "D", x: 7, y: 738 },
];

export default function App() {
  const refs = useRef<(HTMLCanvasElement | null)[]>([]);
  const layouts = [...LAYOUT_A, LAYOUT_B, LAYOUT_C, LAYOUT_D];
  useEffect(() => {
    const c = refs.current;
    const charts = [
      makePanelA(c[0]!, 0),
      makePanelA(c[1]!, 1),
      makePanelA(c[2]!, 2),
      makePanelA(c[3]!, 3),
      makePanelB(c[4]!),
      makePanelC(c[5]!),
      makePanelD(c[6]!),
    ];
    return () => charts.forEach((ch) => ch.destroy());
  }, []);
  return (
    <div style={{ position: "absolute", left: 0, top: 0, width: 709, height: 1015, background: "#fff", overflow: "hidden" }}>
      {layouts.map((L, k) => (
        <canvas
          key={k}
          ref={(el) => { refs.current[k] = el; }}
          width={L.cw}
          height={L.ch}
          style={{ position: "absolute", left: L.cx, top: L.cy, width: L.cw, height: L.ch }}
        />
      ))}
      {LETTERS.map((p) => (
        <div key={p.t} style={{ position: "absolute", left: p.x, top: p.y, fontFamily: FONT, fontSize: 14, lineHeight: "14px", color: "#000" }}>
          {p.t}
        </div>
      ))}
    </div>
  );
}
